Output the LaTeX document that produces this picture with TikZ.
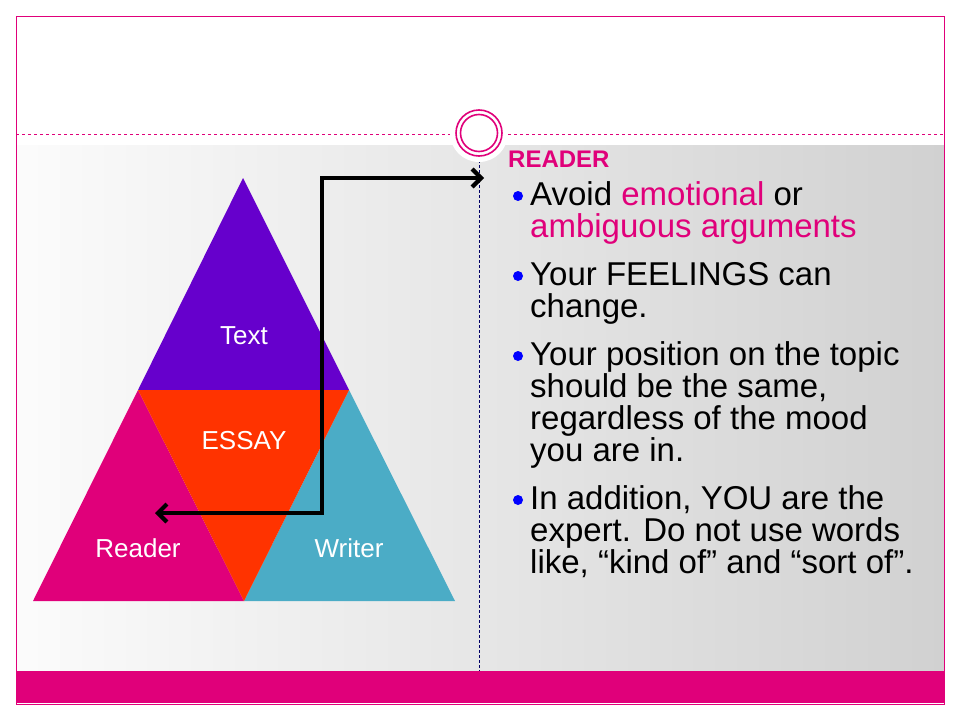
\documentclass[tikz,border=0pt]{standalone}
\usepackage{fontspec}
\setmainfont{Liberation Sans}
\usetikzlibrary{arrows.meta}
\definecolor{mag}{HTML}{E0007A}
\definecolor{purp}{HTML}{6600CC}
\definecolor{teal2}{HTML}{4BACC6}
\definecolor{ored}{HTML}{FF3300}
\definecolor{bgrey}{HTML}{DCDCDC}
\begin{document}
\begin{tikzpicture}[x=1pt,y=-1pt,
  lbl/.style={text=white,font=\fontsize{26}{28}\selectfont},
  ln/.style={anchor=base west,inner sep=0pt,font=\fontsize{33}{33}\selectfont},
  dot/.style={circle,fill=blue,inner sep=0pt,minimum size=10pt}]
\useasboundingbox (0,0) rectangle (960,720);
\fill[white] (0,0) rectangle (960,720);
\shade[left color=white!90!bgrey,right color=bgrey!95!black] (16,145) rectangle (944,671);
\fill[mag] (16,671) rectangle (944,703);
\draw[mag,line width=1pt] (16,16) rectangle (944,704);
\draw[mag,dashed,line width=0.8pt] (16,134) -- (944,134);
\draw[blue!40!black,densely dashed,line width=0.8pt] (479,145) -- (479,671);
\fill[white] (479,133) circle (29);
\draw[mag,line width=1.6pt] (479,133) circle (23);
\draw[mag,line width=1.6pt] (479,133) circle (18.5);
% triangles
\coordinate (A) at (243,178); \coordinate (L) at (33,601); \coordinate (R) at (455,601);
\coordinate (ML) at (138,390); \coordinate (MR) at (349,390); \coordinate (MB) at (244,601);
\fill[purp] (A) -- (ML) -- (MR) -- cycle;
\fill[mag] (ML) -- (L) -- (MB) -- cycle;
\fill[teal2] (MR) -- (MB) -- (R) -- cycle;
\fill[ored] (ML) -- (MR) -- (MB) -- cycle;
\node[lbl] (t) at (244,336) {Text};
\node[lbl] (e) at (244,441) {ESSAY};
\node[lbl] (r) at (138,548) {Reader};
\node[lbl] (w) at (349,548) {Writer};
\coordinate (s) at (155,513); \coordinate (c1) at (322,513); \coordinate (c2) at (322,178); \coordinate (f) at (484,178);
\draw[line width=4.2pt,{Straight Barb[length=9pt,width=18pt]}-{Straight Barb[length=9pt,width=18pt]}] (s) -- (c1) -- (c2) -- (f);
\node[anchor=base west,text=mag,font=\bfseries\fontsize{24}{24}\selectfont,inner sep=0pt] (hd) at (508,167) {READER};
\node[ln] (l1) at (530,205) {Avoid \textcolor{mag}{emotional} or};
\node[ln] (l2) at (530,237) {\textcolor{mag}{ambiguous arguments}};
\node[ln] (l3) at (530,285) {Your FEELINGS can};
\node[ln] (l4) at (530,317) {change.};
\node[ln] (l5) at (530,365) {Your position on the topic};
\node[ln] (l6) at (530,397) {should be the same,};
\node[ln] (l7) at (530,429) {regardless of the mood};
\node[ln] (l8) at (530,461) {you are in.};
\node[ln] (l9) at (530,509) {In addition, YOU are the};
\node[ln] (l10) at (530,541) {expert. Do not use words};
\node[ln] (l11) at (530,573) {like, “kind of” and “sort of”.};
\node[dot] (d1) at (518,196) {}; \node[dot] (d2) at (518,276) {}; \node[dot] (d3) at (518,356) {}; \node[dot] (d4) at (518,500) {};
\end{tikzpicture}
\end{document}
